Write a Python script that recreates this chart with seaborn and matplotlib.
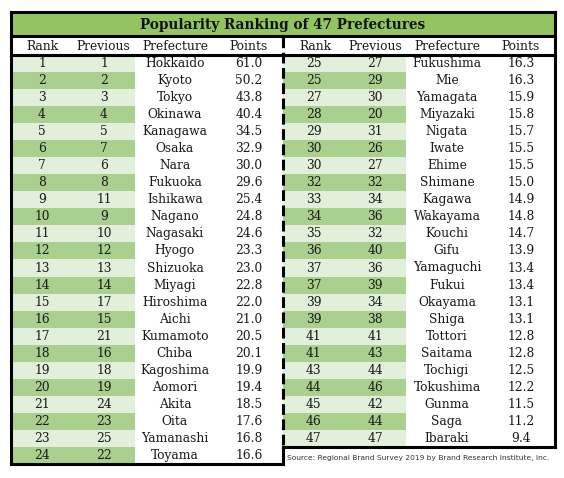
import numpy as np
import matplotlib
matplotlib.use('Agg')
import matplotlib.pyplot as plt
import seaborn as sns
from matplotlib.colors import ListedColormap

# ---- data
rank_l = [1, 2, 3, 4, 5, 6, 7, 8, 9, 10, 11, 12, 13, 14, 15, 16, 17, 18, 19, 20, 21, 22, 23, 24]
prev_l = [1, 2, 3, 4, 5, 7, 6, 8, 11, 9, 10, 12, 13, 14, 17, 15, 21, 16, 18, 19, 24, 23, 25, 22]
pref_l = ['Hokkaido', 'Kyoto', 'Tokyo', 'Okinawa', 'Kanagawa', 'Osaka', 'Nara', 'Fukuoka',
          'Ishikawa', 'Nagano', 'Nagasaki', 'Hyogo', 'Shizuoka', 'Miyagi', 'Hiroshima', 'Aichi',
          'Kumamoto', 'Chiba', 'Kagoshima', 'Aomori', 'Akita', 'Oita', 'Yamanashi', 'Toyama']
pts_l = [61.0, 50.2, 43.8, 40.4, 34.5, 32.9, 30.0, 29.6, 25.4, 24.8, 24.6, 23.3,
         23.0, 22.8, 22.0, 21.0, 20.5, 20.1, 19.9, 19.4, 18.5, 17.6, 16.8, 16.6]

rank_r = [25, 25, 27, 28, 29, 30, 30, 32, 33, 34, 35, 36, 37, 37, 39, 39, 41, 41, 43, 44, 45, 46, 47]
prev_r = [27, 29, 30, 20, 31, 26, 27, 32, 34, 36, 32, 40, 36, 39, 34, 38, 41, 43, 44, 46, 42, 44, 47]
pref_r = ['Fukushima', 'Mie', 'Yamagata', 'Miyazaki', 'Nigata', 'Iwate', 'Ehime', 'Shimane',
          'Kagawa', 'Wakayama', 'Kouchi', 'Gifu', 'Yamaguchi', 'Fukui', 'Okayama', 'Shiga',
          'Tottori', 'Saitama', 'Tochigi', 'Tokushima', 'Gunma', 'Saga', 'Ibaraki']
pts_r = [16.3, 16.3, 15.9, 15.8, 15.7, 15.5, 15.5, 15.0, 14.9, 14.8, 14.7, 13.9,
         13.4, 13.4, 13.1, 13.1, 12.8, 12.8, 12.5, 12.2, 11.5, 11.2, 9.4]

headers = ['Rank', 'Previous', 'Prefecture', 'Points']
title = 'Popularity Ranking of 47 Prefectures'
source = 'Source: Regional Brand Survey 2019 by Brand Research Institute, Inc.'

# ---- style
sns.set_theme(style='white')
plt.rcParams['font.family'] = ['DejaVu Serif']

W, H = 564, 478
light, dark, title_green = '#e2efda', '#a9d08e', '#92c462'
row_h = 17.04
top = 55
fs = 8.8
txt = '#1a1a1a'

fig = plt.figure(figsize=(W / 100, H / 100), dpi=100)


def px_axes(x0, y0, x1, y1):
    return fig.add_axes([x0 / W, 1 - y1 / H, (x1 - x0) / W, (y1 - y0) / H])


def stripe_heatmap(x0, x1, ranks, prevs):
    n = len(ranks)
    stripes = np.array([[i % 2, i % 2] for i in range(n)])
    labels = np.array([[str(r), str(p)] for r, p in zip(ranks, prevs)])
    hax = px_axes(x0, top, x1, top + n * row_h)
    sns.heatmap(stripes, ax=hax, cmap=ListedColormap([light, dark]), vmin=0, vmax=1,
                cbar=False, annot=labels, fmt='',
                annot_kws={'fontsize': fs, 'color': txt, 'family': 'DejaVu Serif'})
    hax.set_axis_off()


stripe_heatmap(11, 135, rank_l, prev_l)
stripe_heatmap(283, 406, rank_r, prev_r)

ax = fig.add_axes([0, 0, 1, 1])
ax.set_xlim(0, W)
ax.set_ylim(H, 0)
ax.set_axis_off()
ax.patch.set_alpha(0)

# title band
ax.add_patch(plt.Rectangle((11, 12), 544, 24, color=title_green, zorder=1))
ax.text(283, 24.5, title, ha='center', va='center', fontsize=9.8, fontweight='bold', color='#111111')

# headers
for xs in ([42, 103, 175, 249], [315, 375, 447, 521]):
    for x, h in zip(xs, headers):
        ax.text(x, 46, h, ha='center', va='center', fontsize=fs, color=txt)

# prefecture / points columns
for xs, prefs, pts in (([175, 249], pref_l, pts_l), ([447, 521], pref_r, pts_r)):
    for i, (p, v) in enumerate(zip(prefs, pts)):
        y = top + (i + 0.5) * row_h
        ax.text(xs[0], y, p, ha='center', va='center', fontsize=fs, color=txt)
        ax.text(xs[1], y, f'{v:.1f}', ha='center', va='center', fontsize=fs, color=txt)

# frame lines
lw = 2.2
k = dict(color='black', lw=lw, solid_capstyle='projecting', zorder=5)
ax.plot([11, 555], [12, 12], **k)
ax.plot([11, 555], [36, 36], **k)
ax.plot([11, 555], [55, 55], **k)
ax.plot([11, 11], [12, 464], **k)
ax.plot([11, 283], [464, 464], **k)
ax.plot([555, 555], [12, 447], **k)
ax.plot([283, 555], [447, 447], **k)
ax.plot([283, 283], [447, 464], **k)
ax.plot([283, 283], [37, 447], color='black', lw=lw, ls=(0, (3.5, 1.5)), zorder=5)

ax.text(287, 458, source, ha='left', va='center', fontsize=5.4, color='#333333',
        family='DejaVu Sans')

fig.savefig('out.png', dpi=100)
